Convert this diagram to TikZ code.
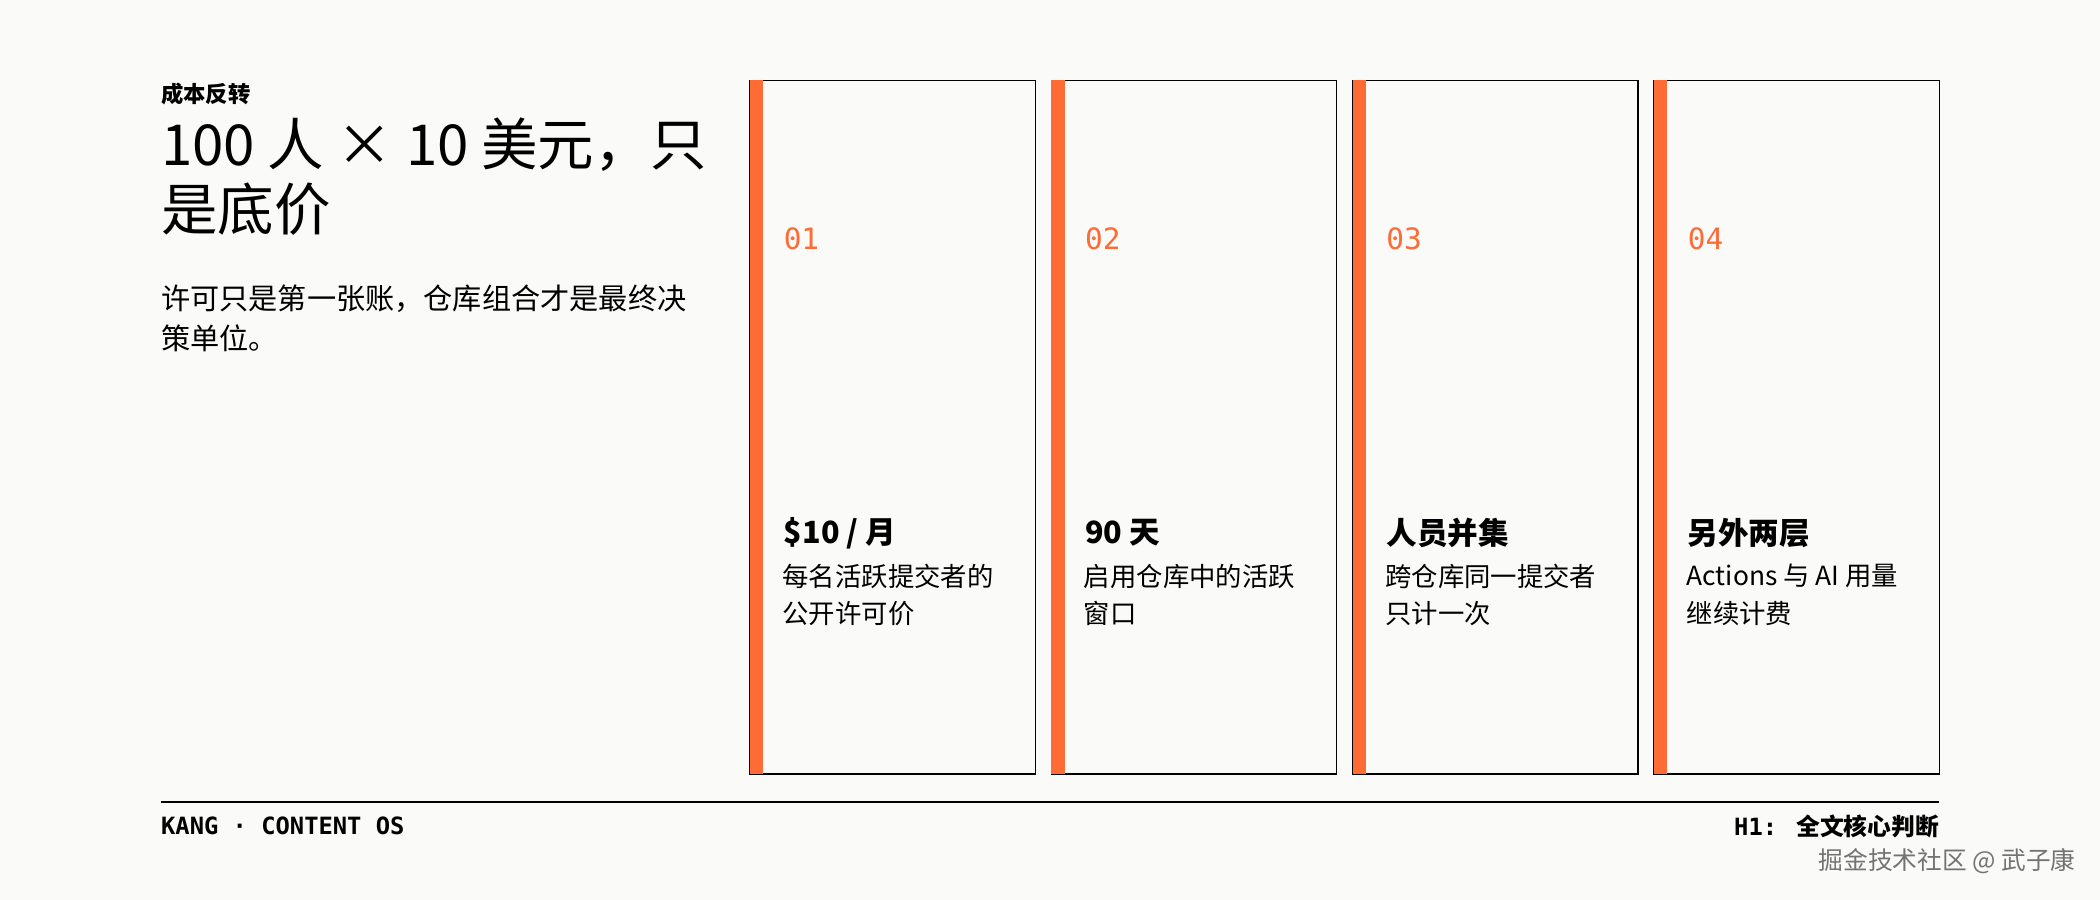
\documentclass[tikz,border=0pt]{standalone}
\usepackage{fontspec}
\setmainfont{Noto Sans CJK SC}
\newfontfamily\monof{DejaVu Sans Mono}
\definecolor{bg}{HTML}{FAFAF8}
\definecolor{acc}{HTML}{FF6B35}
\begin{document}
\begin{tikzpicture}[x=0.02cm,y=-0.02cm,
  card/.style={draw=black,line width=0.6pt},
  num/.style={anchor=west,text=acc,font=\monof\fontsize{12.5}{14}\selectfont},
  head/.style={anchor=west,font=\bfseries\fontsize{13}{15}\selectfont},
  desc/.style={anchor=north west,align=left,font=\fontsize{11.2}{15.8}\selectfont,inner sep=0pt}]
\fill[bg] (0,0) rectangle (1568,672);
\useasboundingbox (0,0) rectangle (1568,672);
\node[anchor=west,inner sep=0pt,font=\bfseries\fontsize{9.5}{10}\selectfont] (kick) at (120,70) {成本反转};
\node[anchor=north west,align=left,inner sep=0pt,font=\fontsize{24}{27.5}\selectfont] (title) at (120,88) {100 人 × 10 美元，只\\是底价};
\node[anchor=north west,align=left,inner sep=0pt,font=\fontsize{12.4}{17}\selectfont] (sub) at (120,212) {许可只是第一张账，仓库组合才是最终决\\策单位。};
\foreach \i/\x/\n/\h/\d in {1/560/01/{\$10 / 月}/每名活跃提交者的\\公开许可价,2/785/02/90 天/启用仓库中的活跃\\窗口,3/1010/03/人员并集/跨仓库同一提交者\\只计一次,4/1235/04/另外两层/Actions 与 AI 用量\\继续计费}{
  \draw[card] (\x,60) rectangle (\x+213,578);
  \fill[acc] (\x,60) rectangle (\x+10,578);
  \node[num] (n\i) at (\x+19,178) {\n};
  \node[head] (h\i) at (\x+19,398) {\h};
  \node[desc] (d\i) at (\x+24,421) {\d};
}
\draw[line width=0.7pt] (120,599) -- (1448,599);
\node[anchor=west,inner sep=0pt,font=\monof\bfseries\fontsize{10.1}{10}\selectfont] (fl) at (120,617) {KANG · CONTENT OS};
\node[anchor=east,inner sep=0pt,font=\monof\bfseries\fontsize{10.1}{10}\selectfont] (fr) at (1448,617) {H1: {\rmfamily\bfseries 全文核心判断}};
\node[anchor=east,inner sep=0pt,text=black!55,font=\fontsize{10.5}{12}\selectfont] (wm) at (1550,643) {掘金技术社区 @ 武子康};
\end{tikzpicture}
\end{document}
